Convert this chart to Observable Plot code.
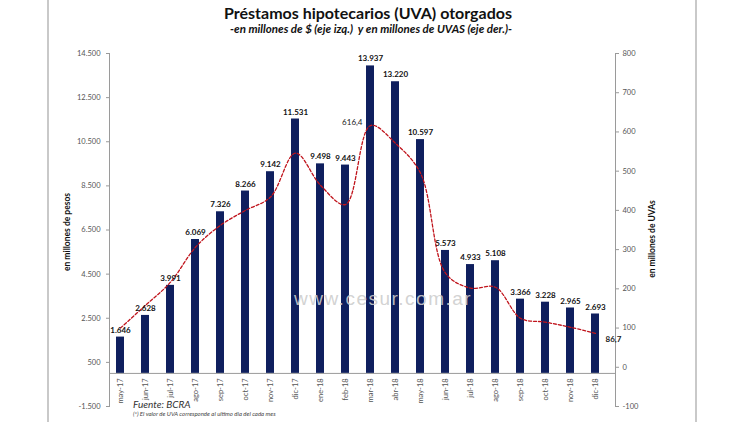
<!DOCTYPE html>
<html><head><meta charset="utf-8">
<script src="https://cdn.jsdelivr.net/npm/d3@7"></script>
<script src="https://cdn.jsdelivr.net/npm/@observablehq/plot@0.6"></script>
<style>
body{margin:0;background:#fff;font-family:Lato,sans-serif}
#wrap{position:relative;width:750px;height:422px;overflow:hidden;background:#fff}
#chart{position:absolute;left:0;top:0}
.abs{position:absolute;white-space:nowrap}
.title{left:0;width:736px;text-align:center;top:3px;font-size:16px;font-weight:bold;color:#111}
.sub{left:0;width:742px;text-align:center;top:22px;font-size:11.5px;font-weight:bold;font-style:italic;color:#111}
.vline{position:absolute;top:0;width:2px;height:422px;background:#c9c9c9}
.ytitle{font-size:8.5px;font-weight:bold;color:#111;transform-origin:center;transform:translate(-50%,-50%) rotate(-90deg)}
.src{left:133px;top:398px;font-size:10px;font-style:italic;color:#333}
.note{left:133px;top:410px;font-size:6px;font-style:italic;color:#444}
.wm{left:294px;top:288px;font-family:"Liberation Sans",Arial,sans-serif;font-size:19px;letter-spacing:1.5px;color:rgba(205,205,205,0.9)}
</style></head><body>
<div id="wrap">
  <div id="chart"></div>
  <div class="vline" style="left:47px"></div>
  <div class="vline" style="left:695px"></div>
  <div class="abs title">Préstamos hipotecarios (UVA) otorgados</div>
  <div class="abs sub">-en millones de $ (eje izq.)&nbsp; y en millones de UVAS (eje der.)-</div>
  <div class="abs ytitle" style="left:67px;top:232px">en millones de pesos</div>
  <div class="abs ytitle" style="left:652px;top:239px">en millones de UVAs</div>
  <div class="abs src">Fuente: BCRA</div>
  <div class="abs note">(*) El valor de UVA corresponde al ultimo dia del cada mes</div>
  <div class="abs wm">www.cesur.com.ar</div>
</div>
<script>
const months = ["may-17","jun-17","jul-17","ago-17","sep-17","oct-17","nov-17","dic-17","ene-18","feb-18","mar-18","abr-18","may-18","jun-18","jul-18","ago-18","sep-18","oct-18","nov-18","dic-18"];
const pesos = [1646,2628,3991,6069,7326,8266,9142,11531,9498,9443,13937,13220,10597,5573,4933,5108,3366,3228,2965,2693];
const uvas = [100,158,217,306,362,400,434,546,464,415,616.4,571,495,240,202,204,125,115,102,86.7];
const leftTicks = [-1500,500,2500,4500,6500,8500,10500,12500,14500];
const rightTicks = [-100,0,100,200,300,400,500,600,700,800];
const labeledUva = ["mar-18","dic-18"];

const loc = d3.formatLocale({decimal:",",thousands:".",grouping:[3],currency:["$",""],minus:"-"});
const fmtInt = loc.format(",");
const fmtDec = loc.format(",.1f");

// right axis (UVAs) mapped onto the left axis (pesos)
const L0 = -1500, L1 = 14500, R0 = -100, R1 = 800;
const toLeft = u => L0 + (u - R0) * (L1 - L0) / (R1 - R0);
const toRight = v => R0 + (v - L0) * (R1 - R0) / (L1 - L0);

const bars = months.map((m,i) => ({month:m, value:pesos[i]}));
const line = months.map((m,i) => ({month:m, uva:uvas[i], y:toLeft(uvas[i])}));
const lineLab = line.filter(d => labeledUva.includes(d.month));

const chart = Plot.plot({
  width: 750, height: 422,
  marginTop: 53, marginBottom: 16, marginLeft: 109, marginRight: 135,
  style: {fontFamily: "Lato, sans-serif", background: "transparent"},
  x: {type: "band", domain: months, range: [109, 606], paddingInner: 0.7, paddingOuter: 0.166, axis: null},
  y: {domain: [L0, L1], axis: null},
  marks: [
    Plot.barY(bars, {x: "month", y: "value", fill: "#0f1f5e"}),
    Plot.ruleY([0], {stroke: "#9a9a9a"}),
    Plot.frame({anchor: "left", stroke: "#9a9a9a"}),
    Plot.frame({anchor: "right", stroke: "#9a9a9a"}),
    Plot.axisY(leftTicks, {anchor: "left", tickSize: 3, tickPadding: 6, tickFormat: fmtInt, fontSize: 7.5, fill: "#555", stroke: "#9a9a9a"}),
    Plot.axisY(rightTicks.map(toLeft), {anchor: "right", tickSize: 3, tickPadding: 4, tickFormat: d => fmtInt(Math.round(toRight(d))), fontSize: 7.5, fill: "#555", stroke: "#9a9a9a"}),
    Plot.text(months, {x: d => d, y: () => 0, text: d => d, rotate: -90, textAnchor: "end", lineAnchor: "middle", dy: 5, fontSize: 7.5, fill: "#555"}),
    Plot.line(line, {x: "month", y: "y", curve: "catmull-rom", stroke: "#c0141c", strokeWidth: 1.3, strokeDasharray: "3,2"}),
    Plot.text(bars, {x: "month", y: "value", text: d => fmtInt(d.value), dy: -7, fontSize: 8, fontWeight: "bold", fill: "#111"}),
    Plot.text(lineLab.slice(0,1), {x: "month", y: "y", text: d => fmtDec(d.uva), textAnchor: "end", dx: -8, dy: -3, fontSize: 8, fill: "#222"}),
    Plot.text(lineLab.slice(1), {x: "month", y: "y", text: d => fmtDec(d.uva), textAnchor: "start", dx: 10, dy: 6, fontSize: 8, fontWeight: "bold", fill: "#222"})
  ]
});
document.getElementById("chart").appendChild(chart);
</script>
</body></html>
